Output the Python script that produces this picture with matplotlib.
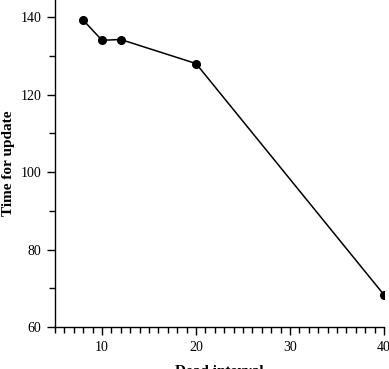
import matplotlib
matplotlib.use("Agg")
import matplotlib.pyplot as plt
from matplotlib.ticker import MultipleLocator

dead_interval = [8, 10, 12, 20, 40]
time_for_update = [139.2, 134.0, 134.2, 128.0, 68.3]

plt.rcParams['font.family'] = ['Liberation Serif', 'DejaVu Serif']

fig = plt.figure(figsize=(3.89, 3.69), dpi=100)
ax = fig.add_axes([55/389, 1 - 327/369, (384 - 55)/389, 327/369])

ax.plot(dead_interval, time_for_update, color='black', linewidth=1.1,
        marker='o', markersize=5.5, clip_on=True)

ax.set_xlim(5, 40)
ax.set_ylim(60, 144.4)
ax.xaxis.set_major_locator(MultipleLocator(10))
ax.xaxis.set_minor_locator(MultipleLocator(1))
ax.yaxis.set_major_locator(MultipleLocator(20))
ax.yaxis.set_minor_locator(MultipleLocator(10))

for s in ['top', 'right']:
    ax.spines[s].set_visible(False)
for s in ['left', 'bottom']:
    ax.spines[s].set_linewidth(1.0)

ax.tick_params(which='major', direction='out', length=6, width=1, labelsize=10, pad=4)
ax.tick_params(which='minor', direction='out', length=4, width=1)

ax.set_xlabel('Dead interval', fontsize=11, fontweight='bold', labelpad=8)
ax.set_ylabel('Time for update', fontsize=11, fontweight='bold', labelpad=4)

fig.savefig('out.png', dpi=100)
